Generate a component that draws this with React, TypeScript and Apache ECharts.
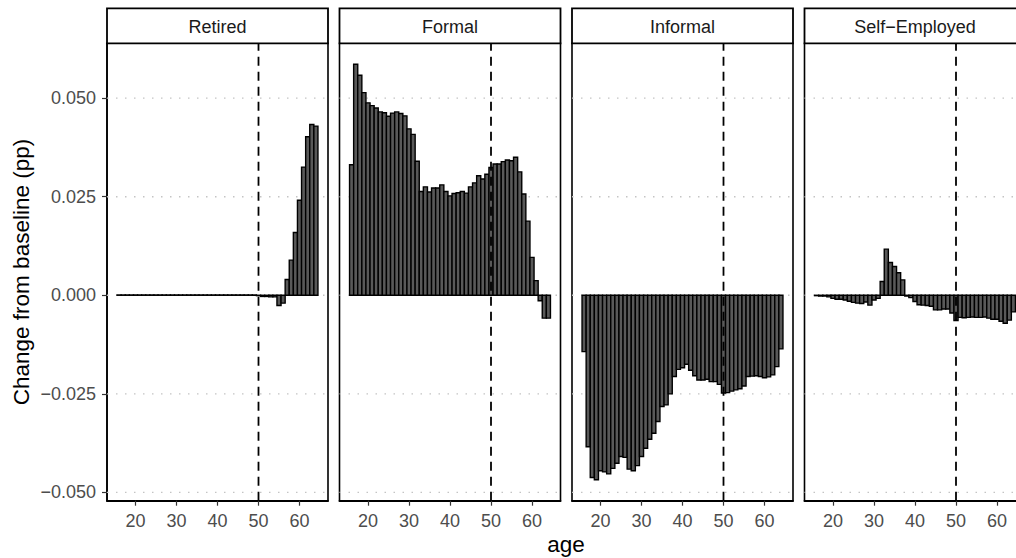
import React, { useEffect, useRef } from "react";
import * as echarts from "echarts";

const ages = [16,17,18,19,20,21,22,23,24,25,26,27,28,29,30,31,32,33,34,35,36,37,38,39,40,41,42,43,44,45,46,47,48,49,50,51,52,53,54,55,56,57,58,59,60,61,62,63,64];

const retired = [
  0.00008,0.00008,0.00008,0.00008,0.00008,0.00008,0.00008,0.00008,0.00008,0.00008,
  0.00008,0.00008,0.00008,0.00008,0.00008,0.00008,0.00008,0.00008,0.00008,0.00008,
  0.00008,0.00008,0.00008,0.00008,0.00008,0.00008,0.00008,0.00008,0.00008,0.00008,
  0.00008,0.00008,0.00008,0.00008,
  -0.0001,-0.0003,-0.0003,-0.0004,-0.0004,-0.0026,-0.0020,0.0040,0.0089,0.0159,0.0241,0.0325,0.0402,0.0433,0.0429,
];

const formal = [
  0.0331,0.0586,0.0558,0.0514,0.0488,0.0481,0.0475,0.0465,0.0463,0.0454,
  0.0462,0.0465,0.0461,0.0455,0.0422,0.0408,0.0340,0.0263,0.0275,0.0262,
  0.0272,0.0272,0.0280,0.0263,0.0252,0.0258,0.0260,0.0263,0.0259,0.0275,
  0.0285,0.0303,0.0295,0.0307,0.0324,0.0333,0.0333,0.0339,0.0343,0.0341,
  0.0350,0.0313,0.0257,0.0188,0.0096,0.0037,-0.0014,-0.0058,-0.0058,
];

const informal = [
  -0.0143,-0.0384,-0.0462,-0.0468,-0.0445,-0.0448,-0.0453,-0.0439,-0.0426,-0.0409,
  -0.0411,-0.0441,-0.0445,-0.0432,-0.0409,-0.0388,-0.0365,-0.0350,-0.0320,-0.0282,
  -0.0278,-0.0250,-0.0206,-0.0188,-0.0184,-0.0175,-0.0190,-0.0204,-0.0215,-0.0215,
  -0.0213,-0.0219,-0.0219,-0.0226,-0.0248,-0.0247,-0.0243,-0.0240,-0.0237,-0.0230,
  -0.0206,-0.0205,-0.0204,-0.0206,-0.0209,-0.0207,-0.0202,-0.0181,-0.0136,
];

const selfEmployed = [
  -0.0001,-0.0002,-0.0002,-0.0004,-0.0008,-0.0010,-0.0010,-0.0012,-0.0015,-0.0018,
  -0.0020,-0.0021,-0.0017,-0.0025,-0.0012,-0.0008,0.0035,0.0117,0.0083,0.0073,
  0.0057,0.0039,-0.0002,-0.0006,-0.0016,-0.0024,-0.0025,-0.0026,-0.0028,-0.0037,
  -0.0037,-0.0035,-0.0035,-0.0045,-0.0064,-0.0056,-0.0057,-0.0056,-0.0055,-0.0056,
  -0.0056,-0.0055,-0.0058,-0.0061,-0.0061,-0.0066,-0.0071,-0.0063,-0.0042,
];

const panelNames = ["Retired", "Formal", "Informal", "Self\u2212Employed"];
const panelValues = [retired, formal, informal, selfEmployed];
const xTicks = [20, 30, 40, 50, 60];
const yTicks = [-0.05, -0.025, 0, 0.025, 0.05];
const cutoffAge = 50;
const xRange = [13.05, 66.95];
const yRange = [-0.0521, 0.0639];

const FONT = "'Liberation Sans', Arial, Helvetica, sans-serif";

export default function App() {
  const ref = useRef<HTMLDivElement>(null);
  useEffect(() => {
    if (!ref.current) return;
    const chart = echarts.init(ref.current, null, { renderer: "svg" });
    const lefts = [107, 339.5, 572, 804.5];
    const W = 221;
    const TOP = 43.3;
    const H = 457.4;

    const grids: any[] = [];
    const xAxes: any[] = [];
    const yAxes: any[] = [];
    const series: any[] = [];
    const graphics: any[] = [];

    panelNames.forEach((name, i) => {
      grids.push({
        left: lefts[i], top: TOP, width: W, height: H,
        show: true, borderColor: "#000", borderWidth: 1.6, backgroundColor: "#fff",
      });
      xAxes.push({
        type: "value", gridIndex: i, min: xRange[0], max: xRange[1],
        axisLine: { show: true, onZero: false, lineStyle: { color: "#000", width: 1.8 } },
        axisTick: { show: true, customValues: xTicks, length: 5, lineStyle: { color: "#333", width: 1.2 } },
        axisLabel: { show: true, customValues: xTicks, color: "#4d4d4d", fontSize: 18, fontFamily: FONT, margin: 11 },
        splitLine: { show: false },
      });
      yAxes.push({
        type: "value", gridIndex: i, min: yRange[0], max: yRange[1],
        axisLine: { show: i === 0, onZero: false, lineStyle: { color: "#000", width: 1.6 } },
        axisTick: { show: i === 0, customValues: yTicks, length: 5, lineStyle: { color: "#333", width: 1.2 } },
        axisLabel: {
          show: i === 0, customValues: yTicks, color: "#4d4d4d", fontSize: 18, fontFamily: FONT, margin: 11,
          formatter: (v: number) => (v < -1e-9 ? "\u2212" : "") + Math.abs(v).toFixed(3),
        },
        splitLine: { show: false },
      });
      yTicks.forEach((t) => {
        series.push({
          type: "line", xAxisIndex: i, yAxisIndex: i, silent: true, symbol: "none", z: 1,
          data: [[xRange[0], t], [xRange[1], t]],
          lineStyle: { color: "#c4c4c4", width: 1.4, type: [1.5, 7.5] },
        });
      });
      const vals = panelValues[i];
      series.push({
        type: "custom", xAxisIndex: i, yAxisIndex: i, z: 2,
        data: ages.map((a, j) => [a, vals[j]]),
        encode: { x: 0, y: 1 },
        renderItem: (params: any, api: any) => {
          const x = api.value(0);
          const y = api.value(1);
          const p1 = api.coord([x - 0.5, y]);
          const p0 = api.coord([x + 0.5, 0]);
          return {
            type: "rect",
            shape: {
              x: p1[0], y: Math.min(p1[1], p0[1]),
              width: p0[0] - p1[0], height: Math.abs(p0[1] - p1[1]),
            },
            style: { fill: "#595959", stroke: "#000", lineWidth: 1.4 },
          };
        },
      });
      series.push({
        type: "line", xAxisIndex: i, yAxisIndex: i, silent: true, symbol: "none", z: 3,
        data: [[cutoffAge, yRange[0]], [cutoffAge, yRange[1]]],
        lineStyle: { color: "#000", width: 1.8, type: [9, 6] },
      });
      graphics.push({
        type: "rect", shape: { x: lefts[i], y: 8.3, width: W, height: 35 },
        style: { fill: "#fff", stroke: "#000", lineWidth: 1.8 }, z: 10,
      });
      graphics.push({
        type: "text", x: lefts[i] + W / 2, y: 26.5, z: 11,
        style: { text: name, fill: "#1a1a1a", font: `18px ${FONT}`, textAlign: "center", textVerticalAlign: "middle" },
      });
    });

    graphics.push({
      type: "text", x: 21, y: TOP + H / 2, rotation: Math.PI / 2, z: 11,
      style: { text: "Change from baseline (pp)", fill: "#000", font: `22.5px ${FONT}`, textAlign: "center", textVerticalAlign: "middle" },
    });
    graphics.push({
      type: "text", x: 566, y: 544, z: 11,
      style: { text: "age", fill: "#000", font: `22.5px ${FONT}`, textAlign: "center", textVerticalAlign: "middle" },
    });

    chart.setOption({
      animation: false,
      backgroundColor: "#fff",
      grid: grids,
      xAxis: xAxes,
      yAxis: yAxes,
      series,
      graphic: graphics,
    });
    return () => chart.dispose();
  }, []);
  return (
    <div style={{ position: "absolute", left: 0, top: 0, width: 1016, height: 558, overflow: "hidden" }}>
      <div ref={ref} style={{ width: 1040, height: 558 }} />
    </div>
  );
}
